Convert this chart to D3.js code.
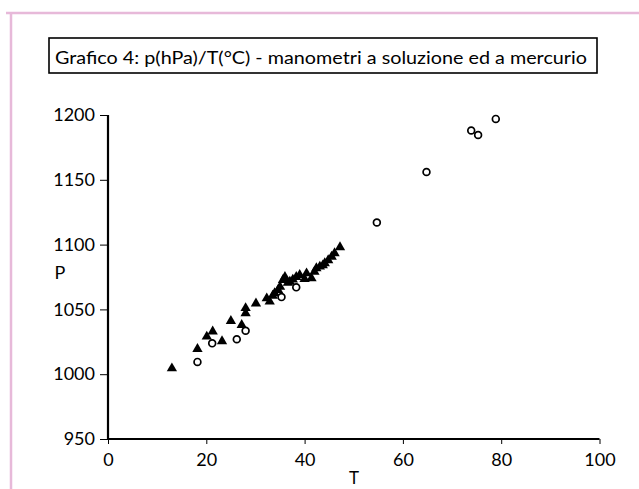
<!DOCTYPE html>
<html><head><meta charset="utf-8">
<script src="https://cdn.jsdelivr.net/npm/d3@7"></script>
<style>body{margin:0;background:#fff}svg{display:block}</style>
</head><body>
<svg id="c" width="639" height="489"></svg>
<script>
const titleText = "Grafico 4: p(hPa)/T(°C) - manometri a soluzione ed a mercurio";
const xTicks = [0, 20, 40, 60, 80, 100];
const yTicks = [950, 1000, 1050, 1100, 1150, 1200];
// manometri a soluzione (triangoli)
const triT = [13, 18.2, 20.1, 21.3, 23.2, 25, 27.2, 28, 28, 30.1, 32.3, 32.9, 33.5, 33.9, 34.6, 35, 35.6, 36, 36.6, 37, 37.6, 38.3, 39, 40, 40.4, 41.4, 42, 42.4, 43.1, 43.7, 44.1, 44.8, 45.5, 46.1, 47.2];
const triP = [1004.5, 1019.5, 1029, 1033, 1025.5, 1041, 1038, 1047, 1051, 1054.5, 1058.5, 1056, 1060.5, 1062.5, 1065, 1067.5, 1072.7, 1075, 1070.5, 1071.4, 1073, 1075, 1076.5, 1073.5, 1077.8, 1074, 1079, 1081.7, 1083, 1084, 1085.6, 1088, 1090.7, 1093.3, 1098];
// manometri a mercurio (cerchi)
const cirT = [18.2, 21.2, 26.2, 28, 35.3, 38.3, 54.7, 64.8, 73.9, 75.3, 78.9];
const cirP = [1009.5, 1023.8, 1027, 1033.5, 1059.5, 1067, 1117, 1156, 1188, 1184.6, 1197];

const svg = d3.select("#c");
const font = "Lato, 'Open Sans', sans-serif";

// pink frame
svg.append("line").attr("x1", 6).attr("x2", 639).attr("y1", 13).attr("y2", 13)
  .attr("stroke", "#e7b9d9").attr("stroke-width", 2.5);
svg.append("line").attr("x1", 11).attr("x2", 11).attr("y1", 12).attr("y2", 489)
  .attr("stroke", "#e7b9d9").attr("stroke-width", 2.5);

// title box
svg.append("rect").attr("x", 49).attr("y", 38).attr("width", 548).attr("height", 35)
  .attr("fill", "none").attr("stroke", "#000").attr("stroke-width", 1.6);
svg.append("text").attr("x", 55).attr("y", 63.5).text(titleText)
  .attr("font-family", font).attr("font-size", 17.5).attr("fill", "#000")
  .attr("textLength", 532).attr("lengthAdjust", "spacingAndGlyphs");

const x = d3.scaleLinear().domain([0, 100]).range([108, 599.5]);
const y = d3.scaleLinear().domain([950, 1200]).range([439, 115]);

const xa = svg.append("g").attr("transform", "translate(0,439)")
  .call(d3.axisBottom(x).tickValues(xTicks).tickSize(5).tickPadding(9).tickFormat(d3.format("d")));
const ya = svg.append("g").attr("transform", "translate(108,0)")
  .call(d3.axisLeft(y).tickValues(yTicks).tickSize(8).tickPadding(5).tickFormat(d3.format("d")));
[xa, ya].forEach(g => {
  g.select(".domain").remove();
  g.selectAll(".tick line").attr("stroke", "#000").attr("stroke-width", 1);
  g.selectAll(".tick text").attr("font-family", font).attr("font-size", 18).attr("fill", "#000");
});
// axis lines
svg.append("line").attr("x1", x(0)).attr("x2", x(100)).attr("y1", y(950)).attr("y2", y(950))
  .attr("stroke", "#000").attr("stroke-width", 2.2);
svg.append("line").attr("x1", x(0)).attr("x2", x(0)).attr("y1", y(1200)).attr("y2", y(950))
  .attr("stroke", "#000").attr("stroke-width", 2.2);

svg.append("text").attr("x", 354).attr("y", 484).attr("text-anchor", "middle")
  .attr("font-family", font).attr("font-size", 17).text("T");
svg.append("text").attr("x", 60).attr("y", 279).attr("text-anchor", "middle")
  .attr("font-family", font).attr("font-size", 18).text("P");

const tri = d3.symbol().type(d3.symbolTriangle).size(46);
svg.append("g").selectAll("path").data(triT.map((t, i) => [t, triP[i]])).join("path")
  .attr("d", tri).attr("transform", d => `translate(${x(d[0])},${y(d[1])})`).attr("fill", "#000");

svg.append("g").selectAll("circle").data(cirT.map((t, i) => [t, cirP[i]])).join("circle")
  .attr("cx", d => x(d[0])).attr("cy", d => y(d[1])).attr("r", 3.4)
  .attr("fill", "#fff").attr("stroke", "#000").attr("stroke-width", 1.7);
</script>
</body></html>
